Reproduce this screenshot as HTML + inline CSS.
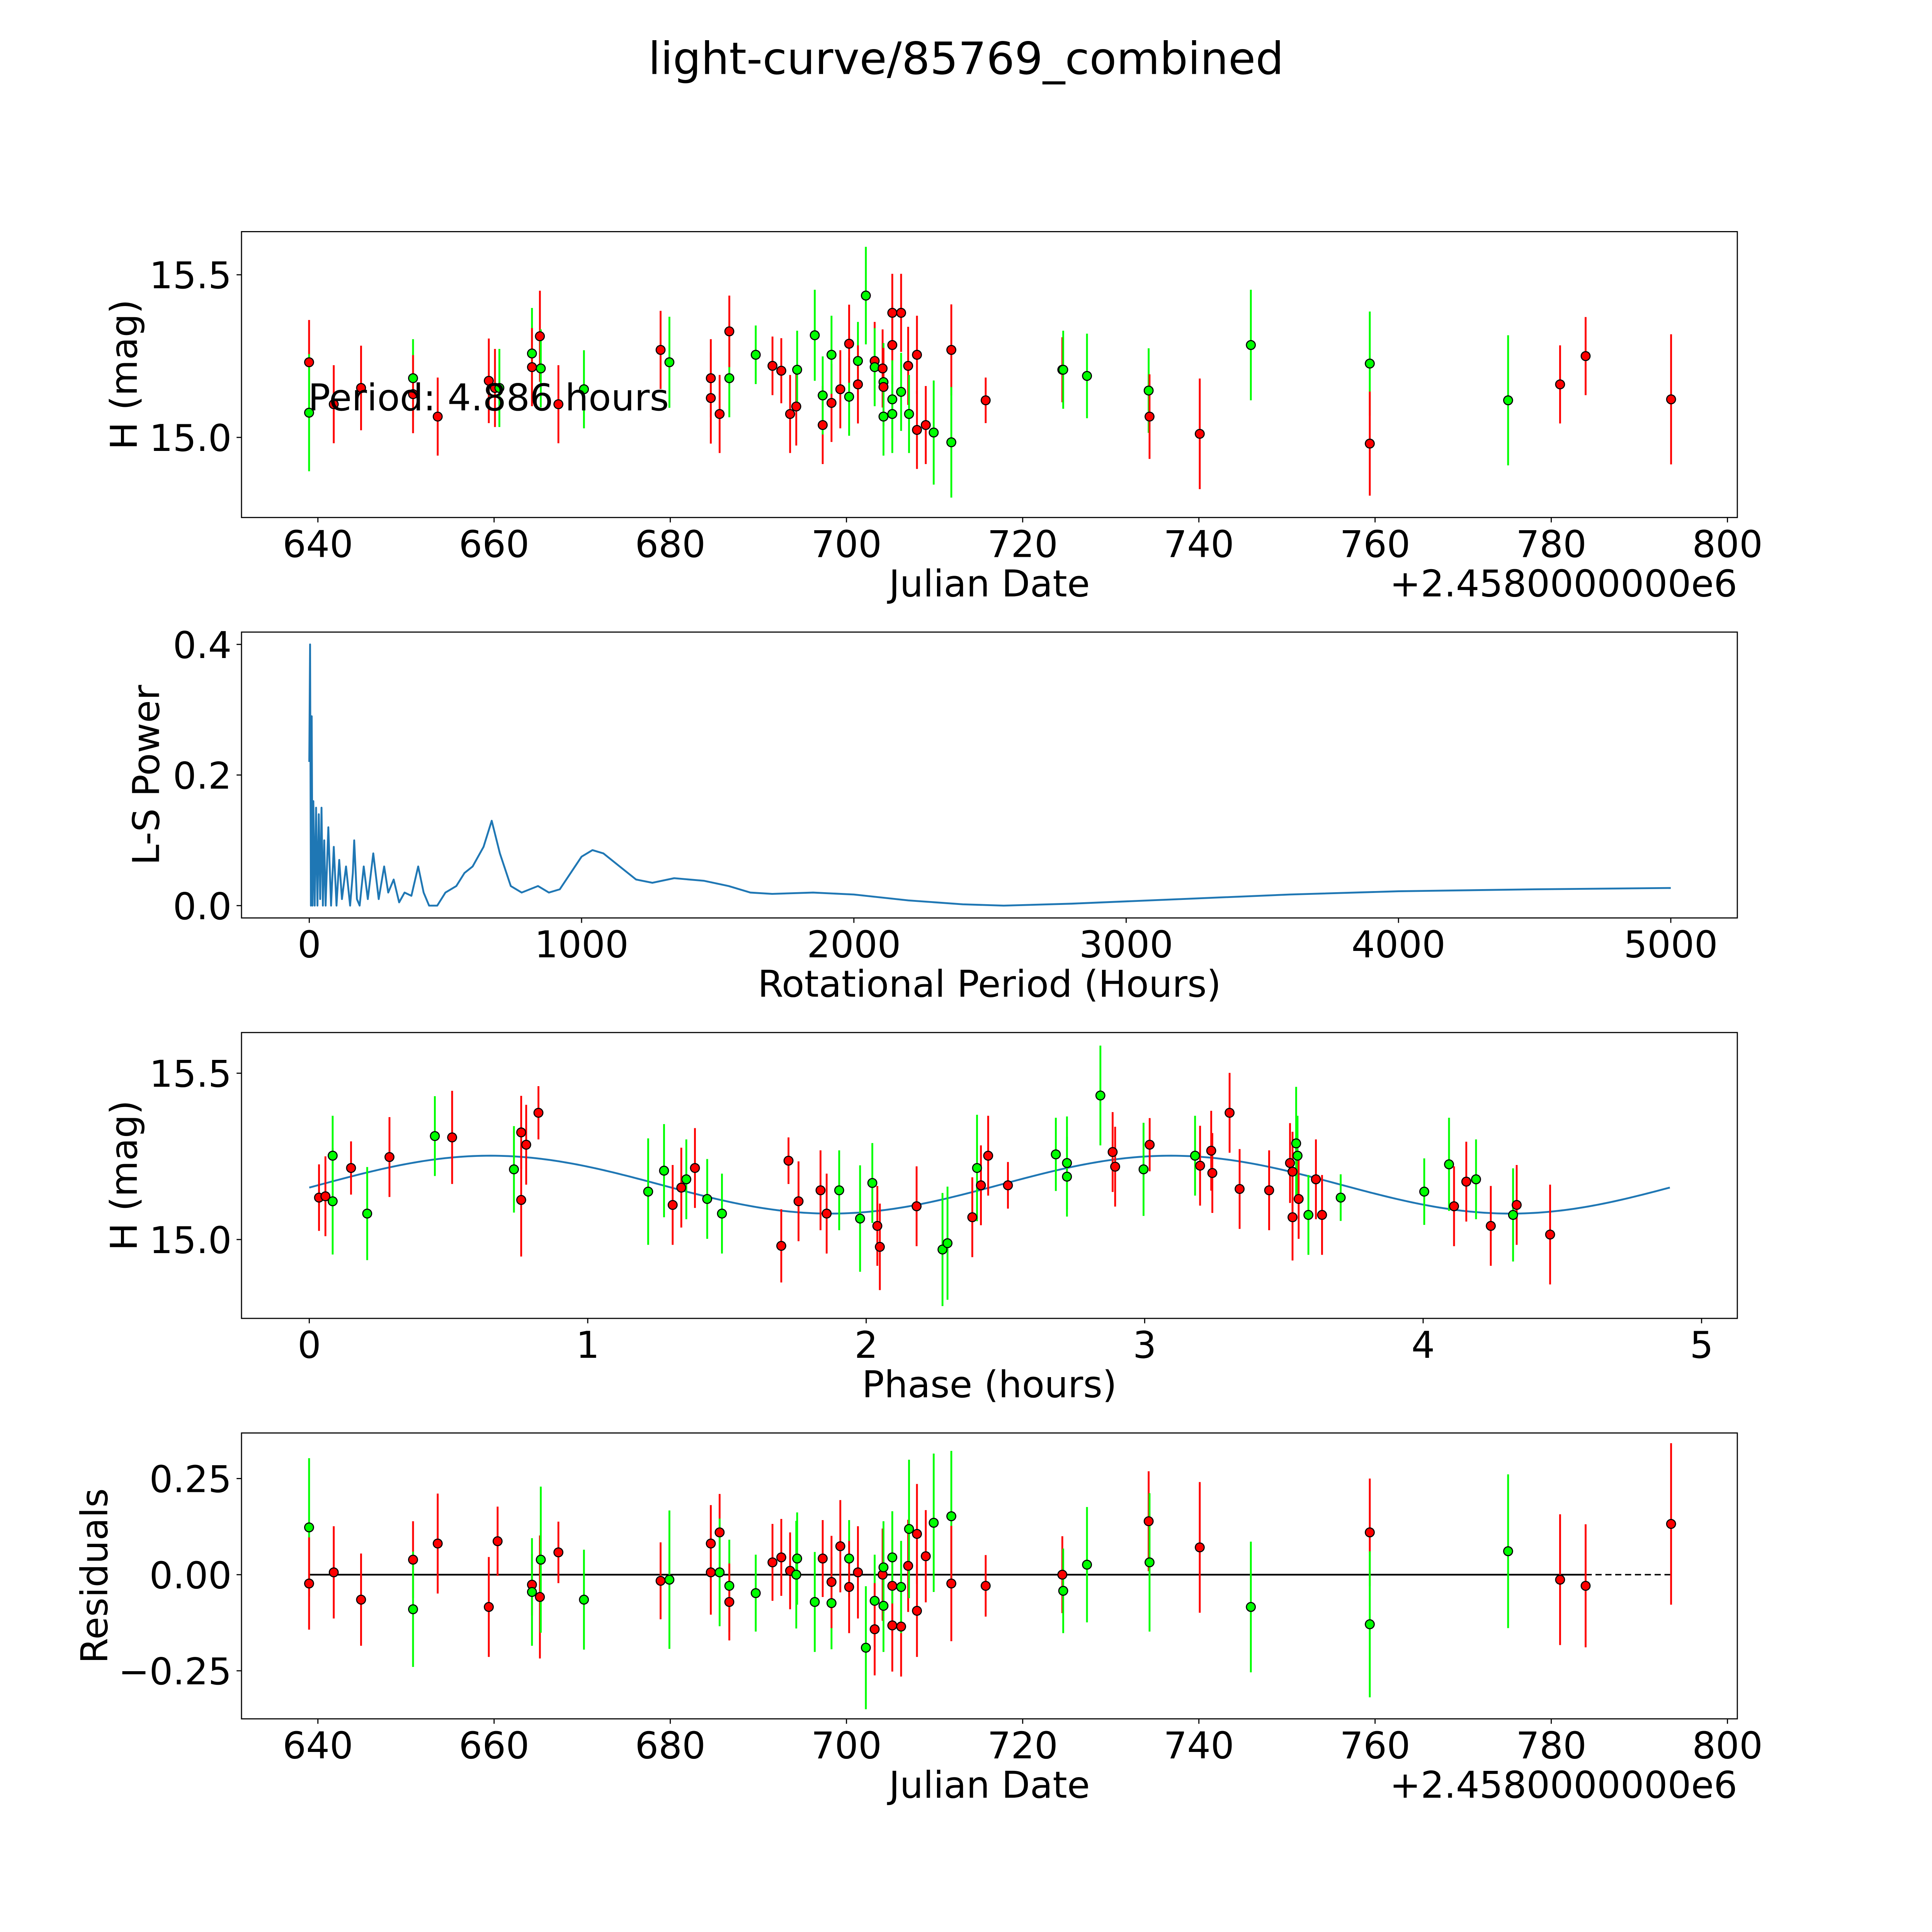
<!DOCTYPE html>
<html><head><meta charset="utf-8"><style>
html,body{margin:0;padding:0;background:#fff;overflow:hidden;width:100vw;height:100vh;}
svg{display:block;width:100vw;height:100vh;font-family:"DejaVu Sans","Liberation Sans",sans-serif;}
</style></head><body>
<svg id="fig" viewBox="0 0 1568 1568" preserveAspectRatio="none" xmlns="http://www.w3.org/2000/svg">
<rect width="1568" height="1568" fill="#fff"/>
<text x="784" y="60" font-size="36" text-anchor="middle">light-curve/85769_combined</text>
<g id="g1"></g>
<g id="g2"></g>
<g id="g3"></g>
<g id="g4"></g>
</svg>
<script>
// ---- Panel 1: light curve (JD offset from 2458000, H mag, color, error) ----
const jd1=[639.0,639.0,641.8,644.9,650.8,650.8,653.6,659.4,660.1,660.6,664.3,664.3,665.2,665.3,667.3,670.2,678.9,679.9,684.6,684.6,685.6,686.7,686.7,689.7,691.6,692.6,693.6,694.3,694.4,696.4,697.3,697.3,698.3,698.3,699.3,700.3,700.3,701.3,701.3,702.2,703.2,703.2,704.1,704.2,704.2,704.2,705.2,705.2,705.2,705.2,706.2,706.2,707.0,707.1,708.0,708.0,709.0,709.9,711.9,711.9,715.8,724.5,724.6,727.3,734.3,734.4,740.1,745.9,759.4,759.4,775.1,781.0,783.9,793.6];
const mag1=[15.231,15.076,15.102,15.152,15.182,15.133,15.064,15.174,15.152,15.152,15.258,15.216,15.311,15.212,15.102,15.148,15.269,15.231,15.182,15.121,15.072,15.182,15.326,15.254,15.220,15.205,15.072,15.095,15.208,15.314,15.038,15.129,15.106,15.254,15.148,15.125,15.288,15.235,15.163,15.436,15.235,15.216,15.212,15.170,15.155,15.064,15.284,15.117,15.072,15.383,15.383,15.140,15.220,15.072,15.254,15.023,15.038,15.015,15.269,14.985,15.114,15.208,15.208,15.189,15.144,15.064,15.011,15.284,15.227,14.981,15.114,15.163,15.250,15.117];
const col1=['r','g','r','r','g','r','r','r','r','g','g','r','r','g','r','g','r','g','r','r','r','g','r','g','r','r','r','r','g','g','r','g','r','g','r','g','r','g','r','g','r','g','r','g','r','g','r','g','g','r','r','g','r','g','r','r','r','g','r','g','r','r','g','g','g','r','r','g','g','r','g','r','r','r'];
const err1=[0.13,0.18,0.12,0.13,0.12,0.12,0.12,0.13,0.12,0.12,0.14,0.12,0.14,0.12,0.12,0.12,0.12,0.14,0.12,0.14,0.12,0.12,0.11,0.09,0.09,0.1,0.12,0.12,0.12,0.14,0.12,0.12,0.12,0.12,0.12,0.12,0.12,0.12,0.12,0.15,0.12,0.12,0.12,0.12,0.12,0.12,0.12,0.12,0.12,0.12,0.12,0.12,0.12,0.12,0.12,0.12,0.12,0.16,0.14,0.17,0.07,0.1,0.12,0.13,0.13,0.13,0.17,0.17,0.16,0.16,0.2,0.12,0.12,0.2];

// ---- Panel 2: Lomb-Scargle periodogram ----
const per2=[0,3,6,9,12,15,20,25,30,35,40,45,50,55,60,70,80,90,100,110,120,135,150,160,165,175,185,200,215,235,255,275,290,310,330,350,375,400,420,440,470,500,540,570,600,640,670,700,740,780,840,880,920,960,1000,1040,1080,1140,1200,1260,1340,1450,1540,1620,1700,1850,2000,2200,2400,2550,2800,3200,3600,4000,4500,5000];
const pow2=[0.22,0.40,0.0,0.29,0.0,0.16,0.0,0.15,0.0,0.14,0.01,0.15,0.0,0.10,0.0,0.12,0.0,0.09,0.0,0.07,0.01,0.06,0.0,0.05,0.10,0.01,0.0,0.06,0.01,0.08,0.01,0.06,0.02,0.04,0.005,0.02,0.015,0.06,0.02,0.0,0.0,0.02,0.03,0.05,0.06,0.09,0.13,0.08,0.03,0.02,0.03,0.02,0.025,0.05,0.075,0.085,0.08,0.06,0.04,0.035,0.042,0.038,0.03,0.02,0.018,0.02,0.017,0.008,0.002,0.0,0.003,0.01,0.017,0.022,0.025,0.027];

// ---- Panel 3: phased light curve ----
const ph3=[0.035,0.058,0.084,0.084,0.150,0.208,0.288,0.451,0.513,0.735,0.761,0.761,0.779,0.823,1.217,1.274,1.305,1.336,1.354,1.385,1.429,1.482,1.695,1.721,1.757,1.836,1.858,1.903,1.978,2.022,2.040,2.049,2.181,2.274,2.292,2.381,2.398,2.412,2.438,2.509,2.681,2.721,2.721,2.841,2.885,2.894,2.996,3.018,3.181,3.199,3.239,3.243,3.305,3.341,3.447,3.522,3.531,3.531,3.544,3.549,3.553,3.588,3.615,3.637,3.704,4.004,4.093,4.111,4.155,4.190,4.243,4.323,4.336,4.456];
const mag3=[15.126,15.130,15.252,15.115,15.215,15.078,15.248,15.311,15.307,15.211,15.322,15.119,15.285,15.381,15.144,15.207,15.104,15.156,15.181,15.215,15.122,15.078,14.981,15.237,15.115,15.148,15.078,15.148,15.063,15.170,15.041,14.978,15.100,14.970,14.989,15.067,15.215,15.163,15.252,15.163,15.256,15.189,15.230,15.433,15.263,15.219,15.211,15.285,15.252,15.222,15.267,15.200,15.381,15.152,15.148,15.230,15.204,15.067,15.289,15.252,15.122,15.074,15.181,15.074,15.126,15.144,15.226,15.100,15.174,15.181,15.041,15.074,15.104,15.015];
const col3=['r','r','g','g','r','g','r','g','r','g','r','r','r','r','g','g','r','r','g','r','g','g','r','r','r','r','r','g','g','g','r','r','r','g','g','r','g','r','r','r','g','g','g','g','r','r','g','r','g','r','r','r','r','r','r','r','r','r','g','g','r','g','r','r','g','g','g','r','r','g','r','g','r','r'];
const err3=[0.1,0.12,0.12,0.16,0.08,0.14,0.12,0.12,0.14,0.13,0.11,0.17,0.12,0.08,0.16,0.14,0.12,0.12,0.12,0.12,0.12,0.12,0.11,0.07,0.12,0.12,0.12,0.12,0.16,0.12,0.12,0.13,0.12,0.17,0.17,0.12,0.16,0.12,0.12,0.07,0.11,0.12,0.14,0.15,0.12,0.12,0.14,0.08,0.12,0.12,0.12,0.12,0.12,0.12,0.12,0.12,0.12,0.13,0.17,0.12,0.12,0.12,0.12,0.12,0.07,0.1,0.14,0.12,0.12,0.12,0.12,0.14,0.12,0.15];
const modelMean=15.165, modelAmp=0.087, modelPeak=0.65, modelHalf=2.443, phaseMax=4.886;

// ---- Panel 4: residuals ----
const jd4=[639.0,639.0,641.8,644.9,650.8,650.8,653.6,659.4,660.4,664.3,664.3,665.2,665.3,667.3,670.2,678.9,679.9,684.6,684.6,685.6,685.6,686.7,686.7,689.7,691.6,692.6,693.6,694.4,694.3,696.4,697.3,698.3,698.3,699.3,700.3,700.3,701.3,702.2,703.2,703.2,704.1,704.2,704.2,705.2,705.2,705.2,706.2,706.2,707.0,707.1,708.0,708.0,709.0,709.9,711.9,711.9,715.8,724.5,724.6,727.3,734.3,734.4,740.1,745.9,759.4,759.4,775.1,781.0,783.9,793.6];
const res4=[0.123,-0.023,0.006,-0.065,0.039,-0.090,0.081,-0.084,0.087,-0.026,-0.045,-0.058,0.039,0.058,-0.065,-0.016,-0.013,0.081,0.006,0.110,0.006,-0.029,-0.071,-0.048,0.032,0.045,0.010,0.042,0.0,-0.071,0.042,-0.074,-0.019,0.074,0.042,-0.032,0.006,-0.190,-0.068,-0.142,0.0,-0.081,0.019,-0.029,-0.132,0.045,-0.135,-0.032,0.023,0.119,0.106,-0.094,0.048,0.135,0.152,-0.023,-0.029,0.0,-0.042,0.026,0.139,0.032,0.071,-0.084,0.110,-0.129,0.061,-0.013,-0.029,0.132];
const col4=['g','r','r','r','r','g','r','r','r','r','g','r','g','r','g','r','g','r','r','r','g','g','r','g','r','r','r','g','g','g','r','g','r','r','g','r','r','g','g','r','r','g','g','r','r','g','r','g','r','g','r','r','r','g','g','r','r','r','g','g','r','g','r','g','r','g','g','r','r','r'];
const err4=[0.18,0.12,0.12,0.12,0.1,0.15,0.13,0.13,0.09,0.08,0.14,0.16,0.19,0.08,0.13,0.1,0.18,0.1,0.11,0.1,0.14,0.12,0.1,0.1,0.1,0.1,0.1,0.12,0.14,0.13,0.1,0.12,0.12,0.12,0.1,0.12,0.12,0.16,0.12,0.12,0.12,0.12,0.12,0.12,0.12,0.12,0.13,0.12,0.12,0.18,0.13,0.12,0.12,0.18,0.17,0.15,0.08,0.1,0.11,0.15,0.13,0.18,0.17,0.17,0.14,0.19,0.2,0.17,0.16,0.21];

const jdTicks=[640,660,680,700,720,740,760,780,800];
const perTicks=[0,1000,2000,3000,4000,5000];
const phTicks=[0,1,2,3,4,5];
const magTicks=[15.0,15.5];
const powTicks=[0.0,0.2,0.4];
const resTicks=[-0.25,0.0,0.25];

const NS='http://www.w3.org/2000/svg';
const FS=30;
function mk(tag,attrs,parent){const e=document.createElementNS(NS,tag);for(const k in attrs)e.setAttribute(k,attrs[k]);parent.appendChild(e);return e;}
function lin(d0,d1,p0,p1){return v=>p0+(v-d0)*(p1-p0)/(d1-d0);}
const COL={r:'#ff0000',g:'#00ff00'};

function frame(g,box,xs,ys,xt,yt,xfmt,yfmt,xlabel,ylabel,ylx,offset){
  for(const t of xt){const x=xs(t);
    const l=mk('line',{x1:x,x2:x,y1:box.b,y2:box.b+4,stroke:'#000','stroke-width':0.9},g);
    
    const tx=mk('text',{x:x,y:box.b+32,'font-size':FS,'text-anchor':'middle'},g);tx.textContent=xfmt(t);
    }
  for(const t of yt){const y=ys(t);
    const l=mk('line',{x1:box.l-4,x2:box.l,y1:y,y2:y,stroke:'#000','stroke-width':0.9},g);
    
    const tx=mk('text',{x:box.l-8,y:y+11,'font-size':FS,'text-anchor':'end'},g);tx.textContent=yfmt(t);
    }
  const xl=mk('text',{x:(box.l+box.r)/2,y:box.b+64,'font-size':FS,'text-anchor':'middle'},g);xl.textContent=xlabel;
  
  const cy=(box.t+box.b)/2;
  const yl=mk('text',{x:ylx,y:cy,'font-size':FS,'text-anchor':'middle',transform:`rotate(-90 ${ylx} ${cy})`},g);yl.textContent=ylabel;
  
  if(offset){const o=mk('text',{x:box.r,y:box.b+64,'font-size':FS,'text-anchor':'end'},g);o.textContent=offset;
    }
}
function border(g,box){const r=mk('rect',{x:box.l,y:box.t,width:box.r-box.l,height:box.b-box.t,fill:'none',stroke:'#000','stroke-width':0.9},g);
  }
function points(g,xs,ys,X,Y,C,E,name){
  for(let i=0;i<X.length;i++){const x=xs(X[i]);
    const l=mk('line',{x1:x,x2:x,y1:ys(Y[i]-E[i]),y2:ys(Y[i]+E[i]),stroke:COL[C[i]],'stroke-width':1.5},g);
    }
  for(let i=0;i<X.length;i++){
    const c=mk('circle',{cx:xs(X[i]),cy:ys(Y[i]),r:3.6,fill:COL[C[i]],stroke:'#000','stroke-width':0.9},g);
    }
}
const fmt2=v=>v.toFixed(1), fint=v=>String(v);
const fres=v=>v===0?'0.00':(v<0?'\u22120.25':'0.25');

// Panel 1
(function(){const g=document.getElementById('g1');const box={l:196,r:1410,t:188,b:420};
  const xs=lin(640,800,258,1402), ys=lin(15.0,15.5,355,223);
  frame(g,box,xs,ys,jdTicks,magTicks,fint,fmt2,'Julian Date','H (mag)',111,'+2.4580000000e6');
  points(g,xs,ys,jd1,mag1,col1,err1,'lightcurve-point');
  const t=mk('text',{x:250,y:333,'font-size':FS},g);t.textContent='Period: 4.886 hours';
  
  border(g,box);})();

// Panel 2
(function(){const g=document.getElementById('g2');const box={l:196,r:1410,t:513,b:745};
  const xs=lin(0,5000,251,1356), ys=lin(0,0.4,735,523);
  frame(g,box,xs,ys,perTicks,powTicks,fint,fmt2,'Rotational Period (Hours)','L-S Power',129,null);
  let d='';for(let i=0;i<per2.length;i++)d+=(i?'L':'M')+xs(per2[i]).toFixed(2)+','+ys(pow2[i]).toFixed(2);
  const p=mk('path',{d:d,fill:'none',stroke:'#1f77b4','stroke-width':1.5,'stroke-linejoin':'round'},g);
  
  border(g,box);})();

// Panel 3
(function(){const g=document.getElementById('g3');const box={l:196,r:1410,t:838,b:1070};
  const xs=lin(0,5,251,1381), ys=lin(15.0,15.5,1006,871);
  frame(g,box,xs,ys,phTicks,magTicks,fint,fmt2,'Phase (hours)','H (mag)',111,null);
  let d='';for(let i=0;i<=300;i++){const p=phaseMax*i/300;const m=modelMean+modelAmp*Math.cos(2*Math.PI*(p-modelPeak)/modelHalf);
    d+=(i?'L':'M')+xs(p).toFixed(2)+','+ys(m).toFixed(2);}
  const c=mk('path',{d:d,fill:'none',stroke:'#1f77b4','stroke-width':1.5},g);
  
  points(g,xs,ys,ph3,mag3,col3,err3,'phase-point');
  border(g,box);})();

// Panel 4
(function(){const g=document.getElementById('g4');const box={l:196,r:1410,t:1163,b:1395};
  const xs=lin(640,800,258,1402), ys=lin(0,0.25,1278,1200);
  frame(g,box,xs,ys,jdTicks,resTicks,fint,fres,'Julian Date','Residuals',87,'+2.4580000000e6');
  const z1=mk('line',{x1:xs(jd4[0]),x2:xs(jd4[jd4.length-2]),y1:ys(0),y2:ys(0),stroke:'#000','stroke-width':1.4},g);
  
  const z2=mk('line',{x1:xs(jd4[jd4.length-2]),x2:xs(jd4[jd4.length-1]),y1:ys(0),y2:ys(0),stroke:'#000','stroke-width':1.2,'stroke-dasharray':'5,3'},g);
  
  points(g,xs,ys,jd4,res4,col4,err4,'residual-point');
  border(g,box);})();
</script>
</body></html>
